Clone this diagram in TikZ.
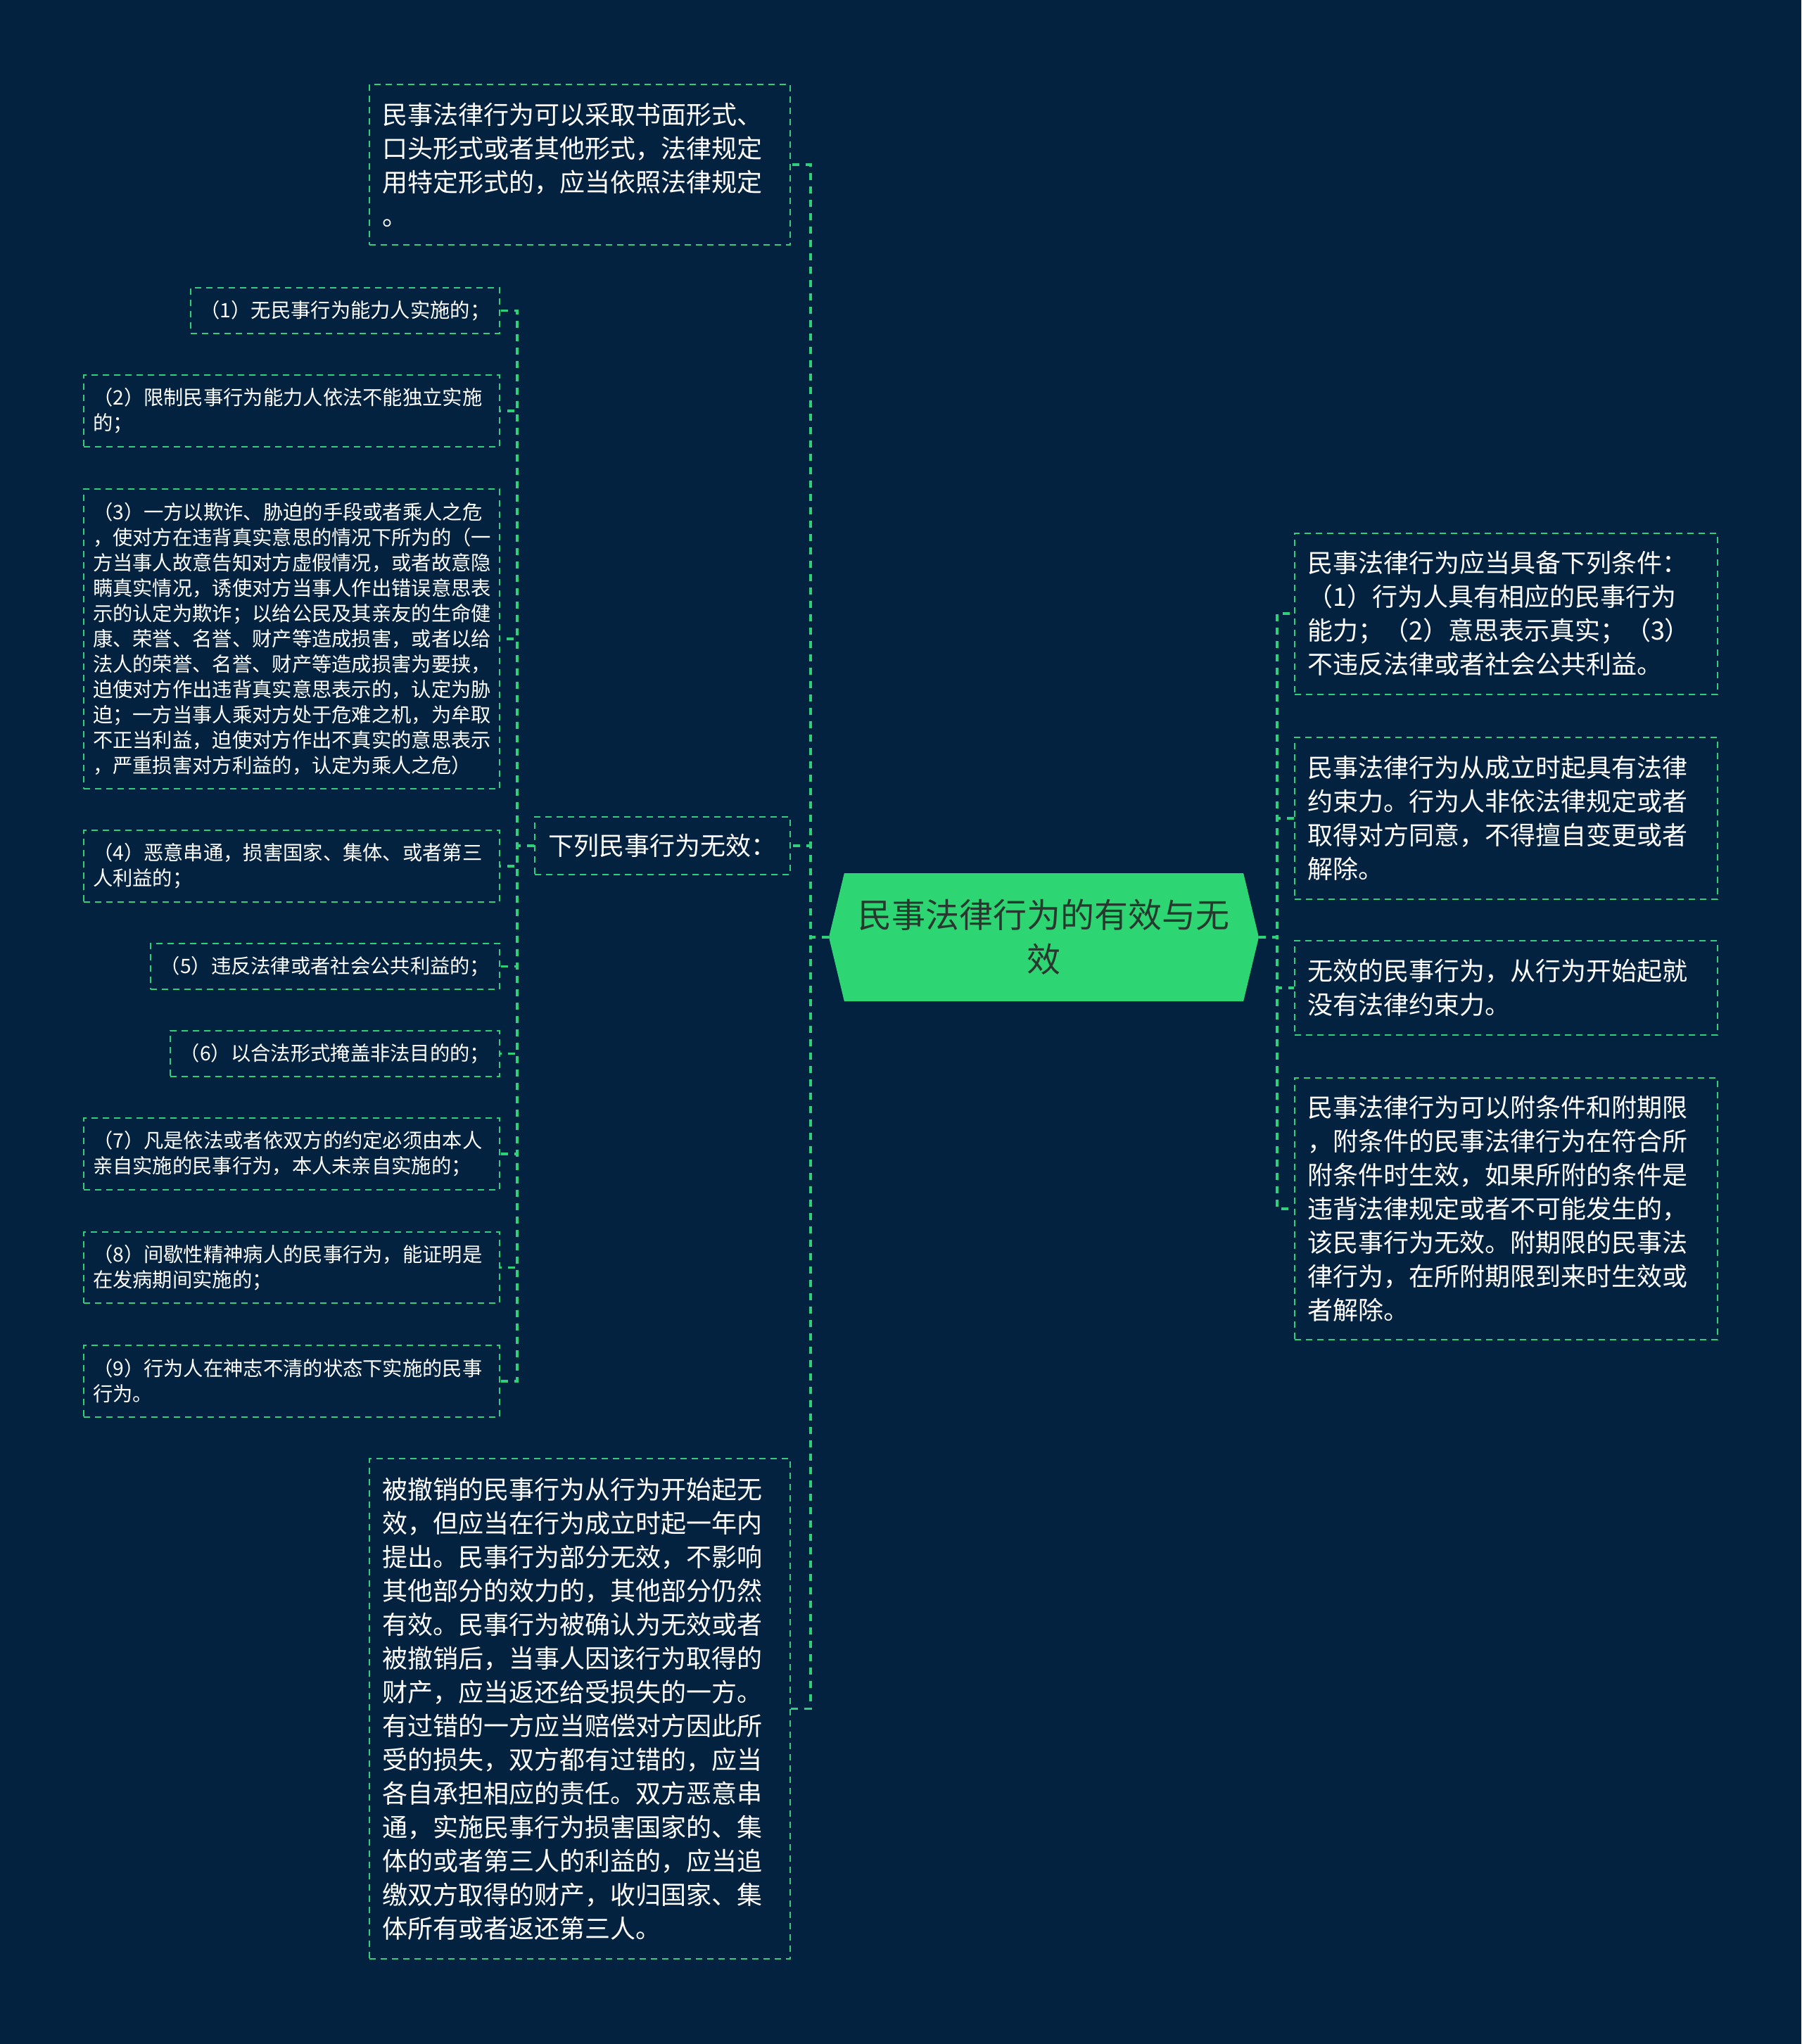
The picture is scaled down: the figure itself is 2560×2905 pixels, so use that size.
\documentclass[tikz,border=0pt]{standalone}
\usepackage{fontspec}
\setmainfont{Noto Sans CJK SC}
\usetikzlibrary{shapes.symbols}
\pgfdeclarelayer{canvas}
\pgfdeclarelayer{bg}
\pgfsetlayers{canvas,bg,main}
\definecolor{navy}{HTML}{03223F}
\definecolor{leaf}{HTML}{2FD07B}
\definecolor{hub}{HTML}{2ED573}
\definecolor{hubtext}{HTML}{27382E}

\begin{document}
\begin{tikzpicture}[x=1pt, y=-1pt,
        box/.style={rectangle, draw=leaf, line width=2pt, dash pattern=on 9pt off 7pt,
                text=white, inner xsep=18pt, inner ysep=0pt, align=left},
        bigtext/.style={font=\fontsize{36}{48}\selectfont},
        smalltext/.style={font=\fontsize{28.3}{36}\selectfont, inner xsep=13pt},
        link/.style={draw=leaf, line width=3.5pt, dash pattern=on 10pt off 9pt},
        hubnode/.style={signal, signal to=east and west, signal pointer angle=153,
                fill=hub, text=hubtext, font=\fontsize{48}{63}\selectfont, align=center,
                minimum width=611pt, minimum height=182pt, inner sep=0pt}]
        \begin{pgfonlayer}{canvas}
                \fill[navy] (0,0) rectangle (2560,2905);
        \end{pgfonlayer}
        \useasboundingbox (0,0) rectangle (2560,2905);

        \node[hubnode] (hub) at (1483.5,1332) {民事法律行为的有效与无\\效};

        % left side
        \node[box, bigtext, anchor=east, text width=562pt, minimum height=228pt] (form) at (1124,234)
                {民事法律行为可以采取书面形式、\\口头形式或者其他形式，法律规定\\用特定形式的，应当依照法律规定\\。};
        \node[box, bigtext, anchor=east, minimum width=363pt, minimum height=82pt] (invalid) at (1124,1202)
                {下列民事行为无效：};
        \node[box, bigtext, anchor=east, text width=562pt, minimum height=711pt] (revoked) at (1124,2428.5)
                {被撤销的民事行为从行为开始起无\\效，但应当在行为成立时起一年内\\提出。民事行为部分无效，不影响\\其他部分的效力的，其他部分仍然\\有效。民事行为被确认为无效或者\\被撤销后，当事人因该行为取得的\\财产，应当返还给受损失的一方。\\有过错的一方应当赔偿对方因此所\\受的损失，双方都有过错的，应当\\各自承担相应的责任。双方恶意串\\通，实施民事行为损害国家的、集\\体的或者第三人的利益的，应当追\\缴双方取得的财产，收归国家、集\\体所有或者返还第三人。};

        \node[box, smalltext, anchor=east, minimum width=439pt, minimum height=65pt] (item1) at (711,441.5)
                {（1）无民事行为能力人实施的；};
        \node[box, smalltext, anchor=east, text width=565pt, minimum height=102pt] (item2) at (711,584)
                {（2）限制民事行为能力人依法不能独立实施\\的；};
        \node[box, smalltext, anchor=east, text width=565pt, minimum height=426pt] (item3) at (711,908)
                {（3）一方以欺诈、胁迫的手段或者乘人之危\\，使对方在违背真实意思的情况下所为的（一\\方当事人故意告知对方虚假情况，或者故意隐\\瞒真实情况，诱使对方当事人作出错误意思表\\示的认定为欺诈；以给公民及其亲友的生命健\\康、荣誉、名誉、财产等造成损害，或者以给\\法人的荣誉、名誉、财产等造成损害为要挟，\\迫使对方作出违背真实意思表示的，认定为胁\\迫；一方当事人乘对方处于危难之机，为牟取\\不正当利益，迫使对方作出不真实的意思表示\\，严重损害对方利益的，认定为乘人之危）};
        \node[box, smalltext, anchor=east, text width=565pt, minimum height=102pt] (item4) at (711,1231)
                {（4）恶意串通，损害国家、集体、或者第三\\人利益的；};
        \node[box, smalltext, anchor=east, minimum width=496pt, minimum height=65pt] (item5) at (711,1373.5)
                {（5）违反法律或者社会公共利益的；};
        \node[box, smalltext, anchor=east, minimum width=468pt, minimum height=65pt] (item6) at (711,1497.5)
                {（6）以合法形式掩盖非法目的的；};
        \node[box, smalltext, anchor=east, text width=565pt, minimum height=102pt] (item7) at (711,1640)
                {（7）凡是依法或者依双方的约定必须由本人\\亲自实施的民事行为，本人未亲自实施的；};
        \node[box, smalltext, anchor=east, text width=565pt, minimum height=101pt] (item8) at (711,1801.5)
                {（8）间歇性精神病人的民事行为，能证明是\\在发病期间实施的；};
        \node[box, smalltext, anchor=east, text width=565pt, minimum height=102pt] (item9) at (711,1963)
                {（9）行为人在神志不清的状态下实施的民事\\行为。};

        % right side
        \node[box, bigtext, anchor=west, text width=565pt, minimum height=229pt] (cond) at (1839,872)
                {民事法律行为应当具备下列条件：\\（1）行为人具有相应的民事行为\\能力；（2）意思表示真实；（3）\\不违反法律或者社会公共利益。};
        \node[box, bigtext, anchor=west, text width=565pt, minimum height=230pt] (bind) at (1839,1163)
                {民事法律行为从成立时起具有法律\\约束力。行为人非依法律规定或者\\取得对方同意，不得擅自变更或者\\解除。};
        \node[box, bigtext, anchor=west, text width=565pt, minimum height=134pt] (void) at (1839,1404)
                {无效的民事行为，从行为开始起就\\没有法律约束力。};
        \node[box, bigtext, anchor=west, text width=565pt, minimum height=372pt] (term) at (1839,1718)
                {民事法律行为可以附条件和附期限\\，附条件的民事法律行为在符合所\\附条件时生效，如果所附的条件是\\违背法律规定或者不可能发生的，\\该民事行为无效。附期限的民事法\\律行为，在所附期限到来时生效或\\者解除。};

        \begin{pgfonlayer}{bg}
                \foreach \n in {form,invalid,revoked}
                        \draw[link] (hub.west) -- ++(-26,0) |- (\n.east);
                \foreach \i in {1,...,9}
                        \draw[link] (invalid.west) -- ++(-24,0) |- (item\i.east);
                \foreach \n in {cond,bind,void,term}
                        \draw[link] (hub.east) -- ++(26,0) |- (\n.west);
        \end{pgfonlayer}
\end{tikzpicture}
\end{document}
